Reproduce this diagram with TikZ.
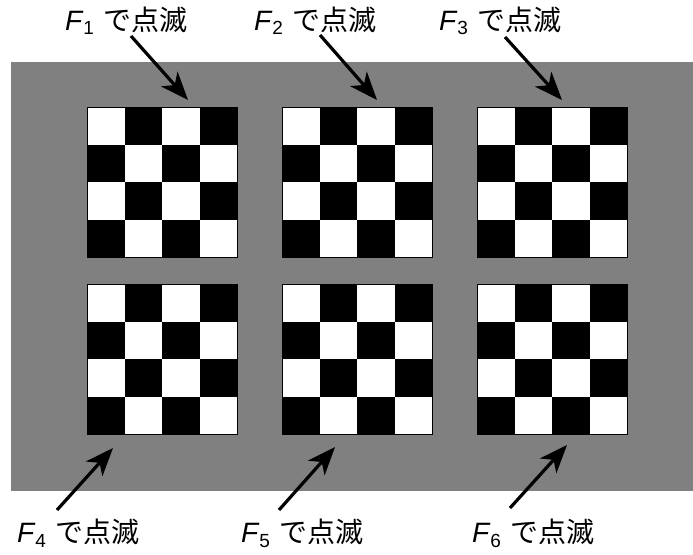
\documentclass[tikz,border=0pt]{standalone}
\usepackage{fontspec}
\setmainfont{Liberation Sans}
\newfontfamily\jpfont{Noto Sans CJK JP}
\usetikzlibrary{arrows.meta}
\definecolor{bggray}{RGB}{128,128,128}
\newcommand{\flab}[1]{{\itshape F}\hspace{1pt}\raisebox{-5pt}{\fontsize{19}{19}\selectfont #1}\hspace{10pt}{\jpfont で点滅}}
\tikzset{
  board/.style={draw=black, fill=white, line width=0.8pt, minimum size=150pt, inner sep=0pt},
  lab/.style={inner sep=0pt, anchor=base west, font=\fontsize{28}{30}\selectfont},
  arr/.style={line width=3.2pt, -{Stealth[length=28pt,width=22pt,inset=8pt]}}
}
\begin{document}
\begin{tikzpicture}[x=1pt,y=-1pt]
\useasboundingbox (0,0) rectangle (693,554);
\fill[bggray] (11,62) rectangle (693,491);
\foreach \bx/\by/\n in {87/107/b1, 282/107/b2, 477/107/b3, 87/284/b4, 282/284/b5, 477/284/b6}{
  \node[board] (\n) at (\bx+75,\by+75) {};
  \foreach \i in {0,...,3}{
    \foreach \j in {0,...,3}{
      \pgfmathtruncatemacro\cellpar{mod(\i+\j,2)}
      \ifnum\cellpar=1
        \fill[black] (\bx+37.5*\i,\by+37.5*\j) rectangle ++(37.5,37.5);
      \fi
    }
  }
}
\node[lab] (l1) at (65,30) {\flab{1}};
\node[lab] (l2) at (254,30) {\flab{2}};
\node[lab] (l3) at (439,30) {\flab{3}};
\node[lab] (l4) at (17,542) {\flab{4}};
\node[lab] (l5) at (241,542) {\flab{5}};
\node[lab] (l6) at (472,542) {\flab{6}};
\coordinate (t1) at (131,36); \coordinate (h1) at (188,100);
\coordinate (t2) at (320,35); \coordinate (h2) at (377,100);
\coordinate (t3) at (505,37); \coordinate (h3) at (562,100);
\coordinate (t4) at (57,510); \coordinate (h4) at (113,448);
\coordinate (t5) at (279,510); \coordinate (h5) at (335,447);
\coordinate (t6) at (510,508); \coordinate (h6) at (567,445);
\foreach \k in {1,...,6}{\draw[arr] (t\k) -- (h\k);}
\end{tikzpicture}
\end{document}
